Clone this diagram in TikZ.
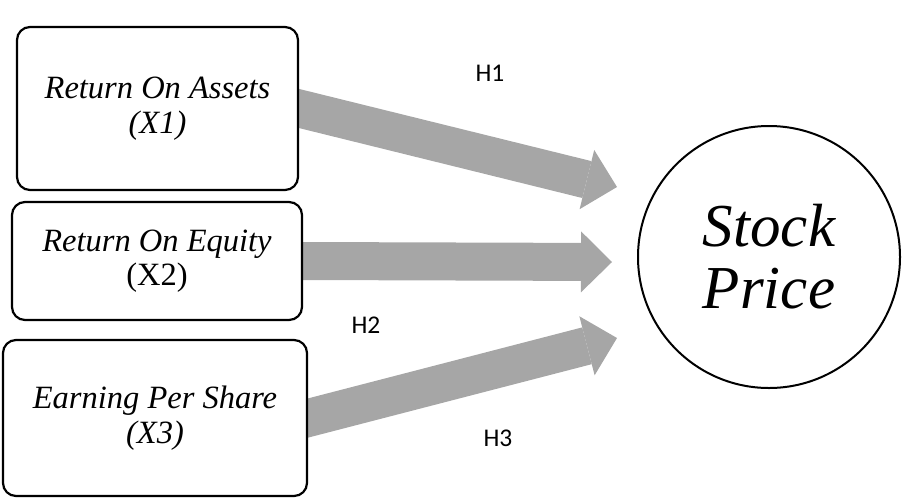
\documentclass[tikz,border=0pt]{standalone}
\usepackage{fontspec}
\setmainfont{Liberation Serif}
\newfontfamily\labelfont{Carlito}
\usetikzlibrary{arrows.meta,backgrounds}
\definecolor{arrowgray}{HTML}{A6A6A6}

\begin{document}
\begin{tikzpicture}[x=1pt,y=-1pt,
  varbox/.style={draw,line width=2.2pt,rounded corners=13pt,fill=white,align=center,inner sep=0pt,font=\fontsize{32.5}{34.5}\selectfont},
  hypo/.style={draw=arrowgray,line width=38pt,shorten <=-8pt,-{Triangle[length=31pt,width=61pt,line width=0pt]}},
  hlabel/.style={font=\labelfont\fontsize{25.5}{27}\selectfont}]
\useasboundingbox (0,0) rectangle (904,498);
% variables
\node[varbox,minimum width=281pt,minimum height=163pt] (roa) at (157.5,108.5) {\textit{Return On Assets}\\\textit{(X1)}};
\node[varbox,minimum width=290pt,minimum height=118pt] (roe) at (157,261) {\textit{Return On Equity}\\(X2)};
\node[varbox,minimum width=304pt,minimum height=156pt] (eps) at (155,418) {\textit{Earning Per Share}\\\textit{(X3)}};
\node[draw,circle,line width=2pt,minimum size=262pt,inner sep=0pt,align=center,font=\fontsize{61}{62}\selectfont\itshape] (price) at (769,257) {Stock\\Price};
% arrow tips
\coordinate (tipA) at (617,187);
\coordinate (tipB) at (612,262);
\coordinate (tipC) at (617,338);
\begin{scope}[on background layer]
\draw[hypo] (roa.east) -- (tipA);
\draw[hypo] (roe.east) -- (tipB);
\draw[hypo] (eps.east) -- (tipC);
\end{scope}
\node[hlabel] (hA) at (490,73) {H1};
\node[hlabel] (hB) at (366,325) {H2};
\node[hlabel] (hC) at (498,438) {H3};
\end{tikzpicture}
\end{document}
